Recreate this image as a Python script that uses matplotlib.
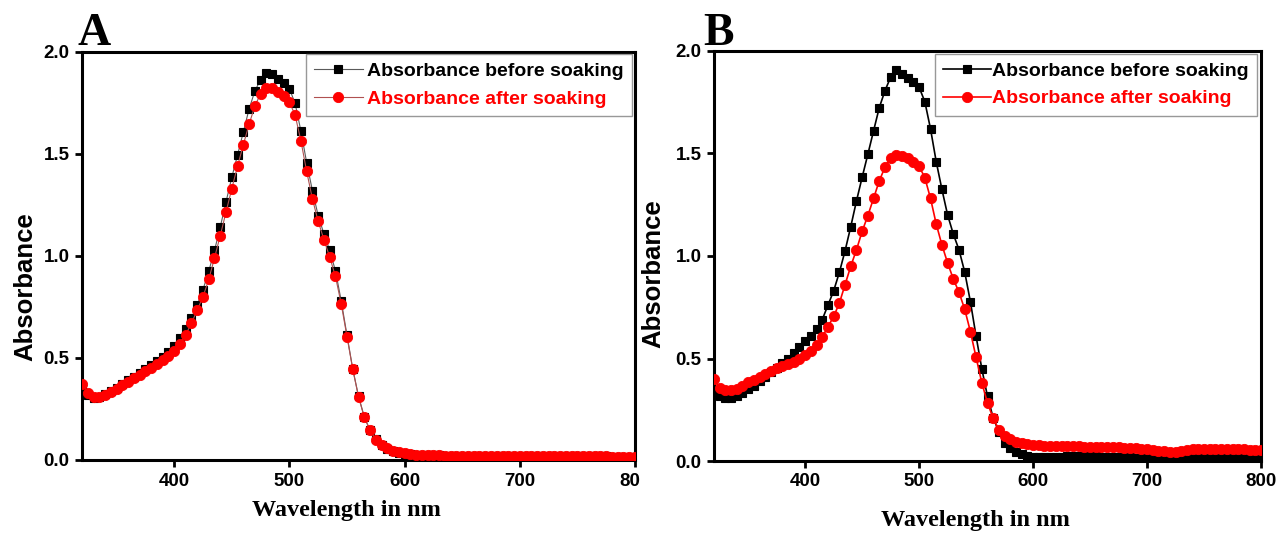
import numpy as np
import matplotlib
matplotlib.use("Agg")
import matplotlib.pyplot as plt
from matplotlib.transforms import Bbox, TransformedBbox

# Wavelength grid (nm), 5 nm step
wavelength = np.arange(320, 801, 5)

tail_A = [0.028, 0.026, 0.025, 0.024, 0.023, 0.023, 0.022, 0.022, 0.022, 0.021,
          0.021, 0.021, 0.021, 0.020, 0.020, 0.020, 0.020, 0.020, 0.020, 0.019,
          0.019, 0.019, 0.019, 0.019, 0.019, 0.019, 0.018, 0.018, 0.018, 0.018,
          0.018, 0.018, 0.018, 0.018, 0.018, 0.017, 0.017, 0.017, 0.017, 0.017]

# Panel A
A_before = [0.360, 0.320, 0.305, 0.307, 0.322, 0.338, 0.355, 0.372, 0.390, 0.408,
            0.427, 0.447, 0.466, 0.486, 0.507, 0.530, 0.560, 0.598, 0.640, 0.695,
            0.760, 0.835, 0.925, 1.027, 1.142, 1.265, 1.385, 1.495, 1.607, 1.720,
            1.808, 1.865, 1.897, 1.890, 1.868, 1.850, 1.820, 1.748, 1.613, 1.458,
            1.320, 1.198, 1.108, 1.028, 0.927, 0.780, 0.612, 0.447, 0.313, 0.212,
            0.146, 0.103, 0.075, 0.055, 0.043, 0.035, 0.030] + tail_A
A_after = [0.375, 0.330, 0.310, 0.310, 0.320, 0.335, 0.350, 0.367, 0.384, 0.400,
           0.418, 0.436, 0.453, 0.470, 0.490, 0.510, 0.535, 0.570, 0.615, 0.670,
           0.735, 0.800, 0.885, 0.990, 1.100, 1.215, 1.330, 1.440, 1.545, 1.645,
           1.735, 1.795, 1.825, 1.825, 1.805, 1.785, 1.755, 1.690, 1.565, 1.415,
           1.280, 1.170, 1.080, 0.995, 0.900, 0.765, 0.605, 0.445, 0.310, 0.210,
           0.145, 0.100, 0.075, 0.057, 0.045, 0.037, 0.032] + tail_A

# Panel B
B_before = [0.330, 0.318, 0.308, 0.305, 0.318, 0.333, 0.350, 0.366, 0.390, 0.410,
            0.433, 0.455, 0.477, 0.500, 0.527, 0.555, 0.585, 0.612, 0.642, 0.690,
            0.760, 0.830, 0.920, 1.025, 1.143, 1.268, 1.384, 1.496, 1.610, 1.723,
            1.806, 1.872, 1.905, 1.890, 1.867, 1.850, 1.823, 1.753, 1.620, 1.460,
            1.325, 1.200, 1.107, 1.030, 0.922, 0.777, 0.608, 0.450, 0.315, 0.210,
            0.143, 0.090, 0.065, 0.045, 0.032, 0.025, 0.020,
            0.020, 0.020, 0.020, 0.021, 0.021, 0.022, 0.022, 0.022, 0.022, 0.022,
            0.022, 0.021, 0.021, 0.020, 0.020, 0.019, 0.018, 0.017, 0.015, 0.014,
            0.013, 0.012, 0.012, 0.012, 0.013, 0.014, 0.015, 0.015, 0.015, 0.015,
            0.015, 0.015, 0.015, 0.015, 0.015, 0.015, 0.015, 0.015, 0.015, 0.015]
B_after = [0.400, 0.355, 0.345, 0.345, 0.353, 0.368, 0.383, 0.397, 0.412, 0.425,
           0.440, 0.452, 0.463, 0.473, 0.485, 0.498, 0.515, 0.537, 0.566, 0.605,
           0.655, 0.705, 0.770, 0.860, 0.950, 1.030, 1.120, 1.197, 1.281, 1.366,
           1.433, 1.478, 1.493, 1.488, 1.477, 1.460, 1.438, 1.382, 1.281, 1.156,
           1.054, 0.966, 0.888, 0.823, 0.740, 0.631, 0.505, 0.382, 0.283, 0.208,
           0.153, 0.122, 0.105, 0.095, 0.087, 0.082, 0.078,
           0.076, 0.075, 0.074, 0.073, 0.072, 0.072, 0.071, 0.071, 0.070, 0.070,
           0.069, 0.068, 0.068, 0.067, 0.066, 0.065, 0.063, 0.061, 0.059, 0.057,
           0.054, 0.050, 0.047, 0.045, 0.046, 0.050, 0.054, 0.057, 0.058, 0.058,
           0.058, 0.058, 0.058, 0.058, 0.057, 0.057, 0.057, 0.056, 0.056, 0.056]

labels = ["Absorbance before soaking", "Absorbance after soaking"]
xticks = [400, 500, 600, 700, 800]
yticks = [0.0, 0.5, 1.0, 1.5, 2.0]

SANS = "Liberation Sans"
SERIF = "Liberation Serif"

fig = plt.figure(figsize=(12.8, 5.33), dpi=100)
W, H = 1280, 533
axA = fig.add_axes([82 / W, 1 - 460 / H, 553 / W, 408 / H])
axB = fig.add_axes([714 / W, 1 - 461 / H, 547 / W, 410 / H])


def style(ax, lw, lcol_b, lcol_a, yb, ya, xl_pos, yl_pos, leg_anchor, htp):
    ax.plot(wavelength, yb, color=lcol_b, lw=lw, marker="s", ms=6.4,
            mfc="black", mec="black", mew=0.8, label=labels[0], zorder=2)
    ax.plot(wavelength, ya, color=lcol_a, lw=lw, marker="o", ms=7.4,
            mfc="#ff0000", mec="#ff0000", mew=0.6, label=labels[1], zorder=3)
    ax.set_xlim(320, 800)
    ax.set_ylim(0, 2.0)
    ax.set_xticks(xticks)
    ax.set_yticks(yticks)
    ax.set_yticklabels([f"{v:.1f}" for v in yticks])
    for s in ax.spines.values():
        s.set_linewidth(2.2)
    ax.tick_params(direction="out", length=5, width=2, labelsize=13.5, pad=4)
    for t in ax.get_xticklabels() + ax.get_yticklabels():
        t.set_fontfamily(SANS)
        t.set_fontweight("bold")
    ax.set_xlabel("Wavelength in nm", fontfamily=SERIF, fontweight="bold",
                  fontsize=17.5)
    ax.set_ylabel("Absorbance", fontfamily=SANS, fontweight="bold", fontsize=18.5)
    ax.xaxis.set_label_coords(*xl_pos)
    ax.yaxis.set_label_coords(*yl_pos)
    ax.xaxis.label.set_va("center")
    ax.yaxis.label.set_va("center")
    leg = ax.legend(loc="upper right", bbox_to_anchor=leg_anchor,
                    borderaxespad=0, frameon=True, fancybox=False,
                    edgecolor="#7f7f7f", handlelength=2.5, handletextpad=htp,
                    labelspacing=0.52, borderpad=0.42,
                    prop={"family": SANS, "weight": "bold", "size": 14})
    leg.get_frame().set_linewidth(1.0)
    leg.get_texts()[0].set_color("black")
    leg.get_texts()[1].set_color("#ff0000")


style(axA, 0.8, "#5a5a5a", "#b05050", A_before, A_after,
      (0.479, -0.123), (-0.103, 0.424), (0.995, 0.995), 0.25)
style(axB, 1.2, "black", "#ff0000", B_before, B_after,
      (0.478, -0.144), (-0.11, 0.456), (0.993, 0.993), 0.05)

# Panel A was cropped at the image midline: clip its tick labels there
clip = TransformedBbox(Bbox([[0, 0], [640 / W, 1]]), fig.transFigure)
for t in axA.get_xticklabels():
    t.set_clip_box(clip)
    t.set_clip_on(True)

fig.text(78 / W, 1 - 45 / H, "A", fontfamily=SERIF, fontweight="bold",
         fontsize=33, va="baseline", ha="left")
fig.text(703 / W, 1 - 45 / H, "B", fontfamily=SERIF, fontweight="bold",
         fontsize=33, va="baseline", ha="left")

fig.savefig("out.png", dpi=100)
